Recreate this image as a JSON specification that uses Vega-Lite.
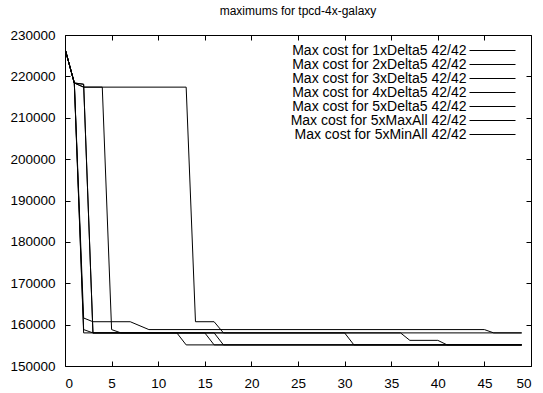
{
  "$schema": "https://vega.github.io/schema/vega-lite/v6.json",
  "width": 466,
  "height": 331,
  "autosize": "none",
  "padding": {"left": 65, "top": 35, "right": 12, "bottom": 27},
  "background": "white",
  "title": {"text": "maximums for tpcd-4x-galaxy", "fontSize": 12, "fontWeight": "normal", "font": "Liberation Sans", "color": "black", "anchor": "middle", "offset": 10},
  "config": {
    "font": "Liberation Sans",
    "view": {"stroke": "black", "strokeWidth": 1},
    "axis": {"grid": false, "domain": false, "tickColor": "black", "tickSize": -5, "labelPadding": 15, "labelFontSize": 13.5, "labelColor": "black", "title": null, "labelFont": "Liberation Sans"}
  },
  "data": {"values": [
    {"s": "Max cost for 1xDelta5 42/42", "x": 0, "y": 226700},
    {"s": "Max cost for 1xDelta5 42/42", "x": 1, "y": 218400},
    {"s": "Max cost for 1xDelta5 42/42", "x": 2, "y": 161600},
    {"s": "Max cost for 1xDelta5 42/42", "x": 3, "y": 160700},
    {"s": "Max cost for 1xDelta5 42/42", "x": 7, "y": 160700},
    {"s": "Max cost for 1xDelta5 42/42", "x": 9, "y": 158800},
    {"s": "Max cost for 1xDelta5 42/42", "x": 45, "y": 158800},
    {"s": "Max cost for 1xDelta5 42/42", "x": 46, "y": 158000},
    {"s": "Max cost for 1xDelta5 42/42", "x": 49, "y": 158000},
    {"s": "Max cost for 2xDelta5 42/42", "x": 0, "y": 226700},
    {"s": "Max cost for 2xDelta5 42/42", "x": 1, "y": 218400},
    {"s": "Max cost for 2xDelta5 42/42", "x": 2, "y": 158800},
    {"s": "Max cost for 2xDelta5 42/42", "x": 3, "y": 158000},
    {"s": "Max cost for 2xDelta5 42/42", "x": 12, "y": 158000},
    {"s": "Max cost for 2xDelta5 42/42", "x": 13, "y": 155100},
    {"s": "Max cost for 2xDelta5 42/42", "x": 49, "y": 155100},
    {"s": "Max cost for 3xDelta5 42/42", "x": 0, "y": 226700},
    {"s": "Max cost for 3xDelta5 42/42", "x": 1, "y": 218400},
    {"s": "Max cost for 3xDelta5 42/42", "x": 2, "y": 218100},
    {"s": "Max cost for 3xDelta5 42/42", "x": 3, "y": 158000},
    {"s": "Max cost for 3xDelta5 42/42", "x": 15, "y": 158000},
    {"s": "Max cost for 3xDelta5 42/42", "x": 16, "y": 155100},
    {"s": "Max cost for 3xDelta5 42/42", "x": 49, "y": 155100},
    {"s": "Max cost for 4xDelta5 42/42", "x": 0, "y": 226700},
    {"s": "Max cost for 4xDelta5 42/42", "x": 1, "y": 218400},
    {"s": "Max cost for 4xDelta5 42/42", "x": 2, "y": 217400},
    {"s": "Max cost for 4xDelta5 42/42", "x": 4, "y": 217400},
    {"s": "Max cost for 4xDelta5 42/42", "x": 5, "y": 158800},
    {"s": "Max cost for 4xDelta5 42/42", "x": 6, "y": 158000},
    {"s": "Max cost for 4xDelta5 42/42", "x": 16, "y": 158000},
    {"s": "Max cost for 4xDelta5 42/42", "x": 17, "y": 155100},
    {"s": "Max cost for 4xDelta5 42/42", "x": 49, "y": 155100},
    {"s": "Max cost for 5xDelta5 42/42", "x": 0, "y": 226700},
    {"s": "Max cost for 5xDelta5 42/42", "x": 1, "y": 218400},
    {"s": "Max cost for 5xDelta5 42/42", "x": 2, "y": 217400},
    {"s": "Max cost for 5xDelta5 42/42", "x": 13, "y": 217400},
    {"s": "Max cost for 5xDelta5 42/42", "x": 14, "y": 160700},
    {"s": "Max cost for 5xDelta5 42/42", "x": 16, "y": 160700},
    {"s": "Max cost for 5xDelta5 42/42", "x": 17, "y": 158000},
    {"s": "Max cost for 5xDelta5 42/42", "x": 49, "y": 158000},
    {"s": "Max cost for 5xMaxAll 42/42", "x": 0, "y": 226700},
    {"s": "Max cost for 5xMaxAll 42/42", "x": 1, "y": 218400},
    {"s": "Max cost for 5xMaxAll 42/42", "x": 2, "y": 158000},
    {"s": "Max cost for 5xMaxAll 42/42", "x": 30, "y": 158000},
    {"s": "Max cost for 5xMaxAll 42/42", "x": 31, "y": 155100},
    {"s": "Max cost for 5xMaxAll 42/42", "x": 49, "y": 155100},
    {"s": "Max cost for 5xMinAll 42/42", "x": 0, "y": 226700},
    {"s": "Max cost for 5xMinAll 42/42", "x": 1, "y": 218400},
    {"s": "Max cost for 5xMinAll 42/42", "x": 2, "y": 218100},
    {"s": "Max cost for 5xMinAll 42/42", "x": 3, "y": 158000},
    {"s": "Max cost for 5xMinAll 42/42", "x": 36, "y": 158000},
    {"s": "Max cost for 5xMinAll 42/42", "x": 37, "y": 156200},
    {"s": "Max cost for 5xMinAll 42/42", "x": 40, "y": 156200},
    {"s": "Max cost for 5xMinAll 42/42", "x": 41, "y": 155100},
    {"s": "Max cost for 5xMinAll 42/42", "x": 49, "y": 155100}
  ]},
  "layer": [
    {
      "mark": {"type": "line", "strokeWidth": 1, "clip": true},
      "encoding": {
        "x": {"field": "x", "type": "quantitative", "scale": {"domain": [0, 50], "nice": false, "zero": false}, "axis": {"orient": "bottom", "values": [0,5,10,15,20,25,30,35,40,45,50]}},
        "y": {"field": "y", "type": "quantitative", "scale": {"domain": [150000, 230000], "nice": false, "zero": false}, "axis": {"orient": "left", "values": [150000,160000,170000,180000,190000,200000,210000,220000,230000], "format": "d"}},
        "color": {"field": "s", "type": "nominal", "scale": {"range": ["black","black","black","black","black","black","black"]},
          "legend": {"title": null, "orient": "none", "legendX": 420.5, "legendY": 8.5, "symbolType": "M-4.6,0H4.6", "symbolSize": 100, "symbolStrokeWidth": 1, "labelAlign": "right", "labelOffset": -33, "labelFontSize": 14, "labelColor": "black", "labelLimit": 400, "rowPadding": -0.5, "padding": 0}
        },
        "detail": {"field": "s"}
      }
    },
    {
      "mark": {"type": "line", "opacity": 0},
      "encoding": {
        "x": {"field": "x", "type": "quantitative", "scale": {"domain": [0, 50], "nice": false, "zero": false}, "axis": {"orient": "top", "labels": false, "values": [0,5,10,15,20,25,30,35,40,45,50]}},
        "y": {"field": "y", "type": "quantitative", "scale": {"domain": [150000, 230000], "nice": false, "zero": false}, "axis": {"orient": "right", "labels": false, "values": [150000,160000,170000,180000,190000,200000,210000,220000,230000]}},
        "detail": {"field": "s"}
      }
    }
  ],
  "resolve": {"axis": {"x": "independent", "y": "independent"}}
}
